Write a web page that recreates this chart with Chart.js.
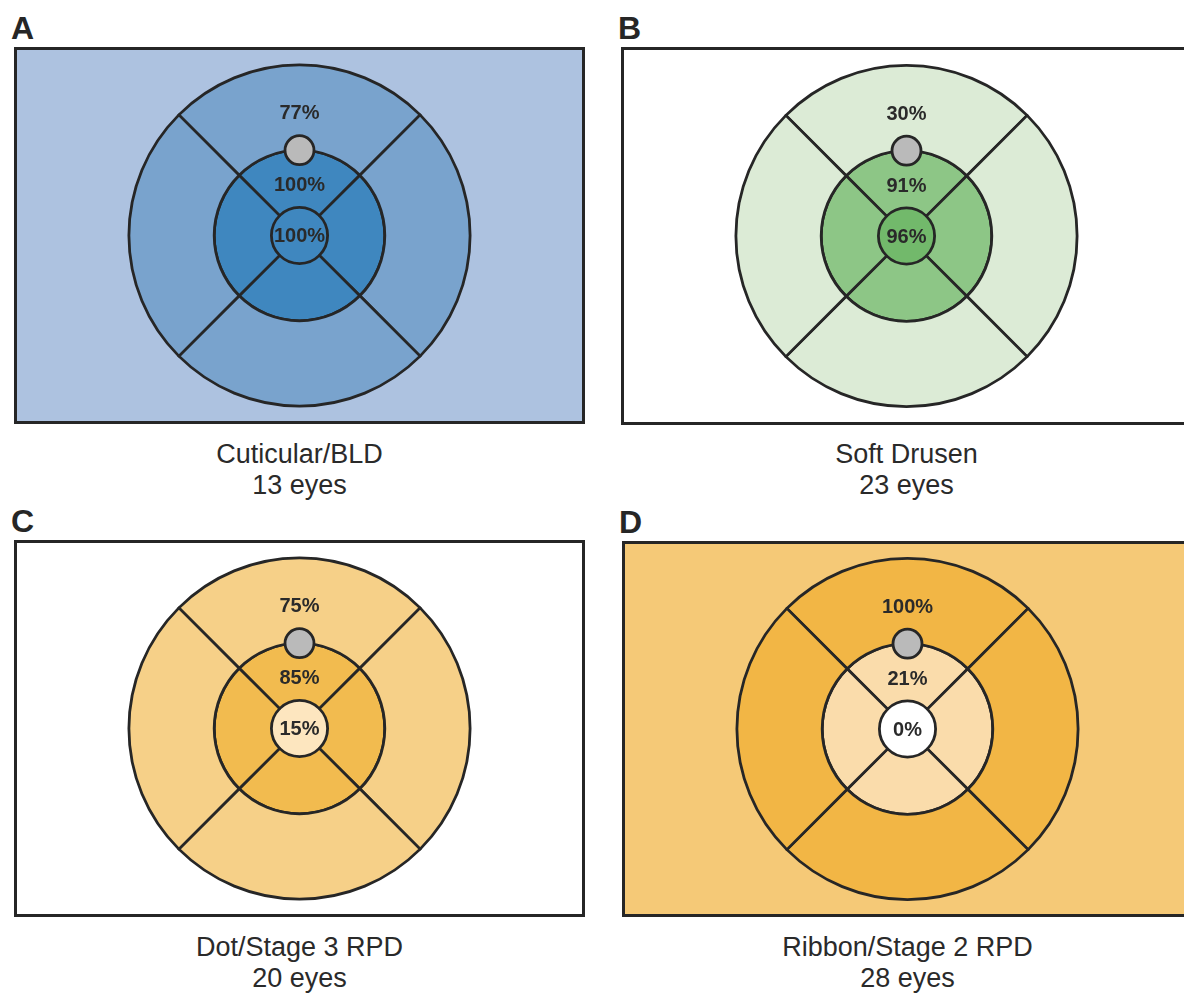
<!DOCTYPE html>
<html>
<head>
<meta charset="utf-8">
<script src="https://cdn.jsdelivr.net/npm/chart.js@4/dist/chart.umd.min.js"></script>
<style>
  html, body { margin: 0; padding: 0; background: #ffffff; width: 1184px; height: 996px; overflow: hidden; }
  body { position: relative; font-family: "Liberation Sans", Arial, Helvetica, sans-serif; color: #2a2a2a; }
  .panel { position: absolute; box-sizing: border-box; border: 3px solid #262626; width: 571px; }
  .panel canvas { display: block; }
  .letter { position: absolute; font-weight: bold; font-size: 32px; line-height: 32px; color: #262626; }
  .caption { position: absolute; width: 571px; text-align: center; font-size: 27px; line-height: 31px; color: #2a2a2a; }
</style>
</head>
<body>
<script>
// ---- data ----
const panelLetters = ['A', 'B', 'C', 'D'];
const categories = ['Cuticular/BLD', 'Soft Drusen', 'Dot/Stage 3 RPD', 'Ribbon/Stage 2 RPD'];
const eyeCounts = [13, 23, 20, 28];
const outerRingPct = [77, 30, 75, 100];
const innerRingPct = [100, 91, 85, 21];
const centerPct = [100, 96, 15, 0];
const quadrants = ['Superior', 'Temporal', 'Inferior', 'Nasal'];
const quadrantShare = [25, 25, 25, 25];
const centerShare = [100];

// ---- styles ----
const panelStyle = [
  { left: 14,  top: 47,  height: 377, bg: '#adc2e0', outer: '#79a3cd', mid: '#3f87bf', center: '#3f87bf' },
  { left: 621, top: 47,  height: 378, bg: '#ffffff', outer: '#dcebd6', mid: '#8dc686', center: '#72b96b' },
  { left: 14,  top: 540, height: 377, bg: '#ffffff', outer: '#f6d088', mid: '#f2bb4f', center: '#fde6bf' },
  { left: 622, top: 541, height: 376, bg: '#f5c977', outer: '#f2b645', mid: '#fadcab', center: '#ffffff' }
];
const captionTop = [439, 439, 932, 932];
const lineColor = '#262626';

const etdrsLabels = {
  id: 'etdrsLabels',
  afterDatasetsDraw(chart) {
    const i = chart.options.plugins.etdrsLabels.index;
    const ctx = chart.ctx;
    const o = chart.getDatasetMeta(0).data[0];
    const m = chart.getDatasetMeta(1).data[0];
    const cx = o.x, cy = o.y;
    ctx.save();
    // grey disc at the top of the inner ring
    ctx.beginPath();
    ctx.arc(cx, cy - m.outerRadius, 14.5, 0, Math.PI * 2);
    ctx.fillStyle = '#bababa';
    ctx.fill();
    ctx.lineWidth = 2.8;
    ctx.strokeStyle = lineColor;
    ctx.stroke();
    // percentages
    ctx.fillStyle = '#2a2a2a';
    ctx.font = 'bold 20px "Liberation Sans", Arial, sans-serif';
    ctx.textAlign = 'center';
    ctx.textBaseline = 'middle';
    ctx.fillText(outerRingPct[i] + '%', cx, cy - (o.innerRadius + o.outerRadius) / 2 + 6);
    ctx.fillText(innerRingPct[i] + '%', cx, cy - (m.innerRadius + m.outerRadius) / 2 + 7);
    ctx.fillText(centerPct[i] + '%', cx, cy + 1);
    ctx.restore();
  }
};

panelLetters.forEach((letter, i) => {
  const s = panelStyle[i];
  const L = document.createElement('div');
  L.className = 'letter';
  L.textContent = letter;
  L.style.left = (s.left - 3) + 'px';
  L.style.top = (s.top - 35) + 'px';
  document.body.appendChild(L);

  const box = document.createElement('div');
  box.className = 'panel';
  box.style.left = s.left + 'px';
  box.style.top = s.top + 'px';
  box.style.height = s.height + 'px';
  box.style.background = s.bg;
  const cv = document.createElement('canvas');
  cv.width = 565;
  cv.height = s.height - 6;
  box.appendChild(cv);
  document.body.appendChild(box);

  const cap = document.createElement('div');
  cap.className = 'caption';
  cap.style.left = s.left + 'px';
  cap.style.top = captionTop[i] + 'px';
  cap.innerHTML = categories[i] + '<br>' + eyeCounts[i] + ' eyes';
  document.body.appendChild(cap);

  const padV = (cv.height - 344) / 2;
  new Chart(cv, {
    type: 'doughnut',
    data: {
      labels: quadrants,
      datasets: [
        { data: quadrantShare, weight: 85, backgroundColor: s.outer, borderColor: lineColor, borderWidth: 2.8, borderJoinStyle: 'round' },
        { data: quadrantShare, weight: 57, backgroundColor: s.mid, borderColor: lineColor, borderWidth: 2.8, borderJoinStyle: 'round' },
        { data: centerShare, weight: 28, backgroundColor: s.center, borderWidth: 0 }
      ]
    },
    options: {
      responsive: false,
      animation: false,
      events: [],
      devicePixelRatio: 1,
      cutout: 0,
      rotation: -45,
      layout: { padding: { top: padV, bottom: padV, left: 0, right: 0 } },
      plugins: {
        legend: { display: false },
        tooltip: { enabled: false },
        etdrsLabels: { index: i }
      }
    },
    plugins: [etdrsLabels]
  });
});
</script>
</body>
</html>
